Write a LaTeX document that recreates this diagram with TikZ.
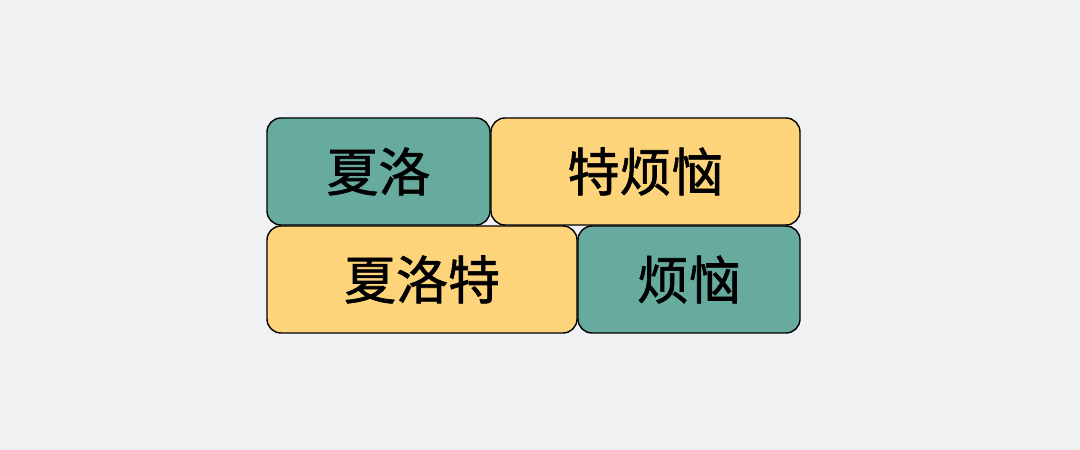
\documentclass[tikz,border=0pt]{standalone}
\usepackage{fontspec}
\newfontfamily\cjk[FakeBold=1.2]{Noto Sans CJK SC}
\usepackage{xcolor}
\usetikzlibrary{positioning}
\definecolor{bgcol}{HTML}{F0F1F3}
\definecolor{tealbox}{HTML}{67AB9F}
\definecolor{yellowbox}{HTML}{FDD479}
\tikzstyle{block}    = [rectangle, draw=black, line width=1.4pt, rounded corners=14pt, minimum height=107pt, outer sep=0pt, inner sep=0pt, font=\cjk\fontsize{52}{52}\selectfont]
\tikzstyle{tealblk}  = [block, fill=tealbox]
\tikzstyle{yellowblk} = [block, fill=yellowbox]

\begin{document}
\begin{tikzpicture}[x=1pt, y=1pt, node distance = 1pt]
        \fill [bgcol] (0,0) rectangle (1080,450);
        \useasboundingbox (0,0) rectangle (1080,450);
        \node [tealblk, minimum width=223pt, anchor=north west] (xl) at (267,332) {夏洛};
        \node [yellowblk, minimum width=309pt, right=1pt of xl] (tfn) {特烦恼};
        \node [yellowblk, minimum width=310pt, below=1pt of xl.south west, anchor=north west] (xlt) {夏洛特};
        \node [tealblk, minimum width=222pt, right=1pt of xlt] (fn) {烦恼};
    \end{tikzpicture}
\end{document}
